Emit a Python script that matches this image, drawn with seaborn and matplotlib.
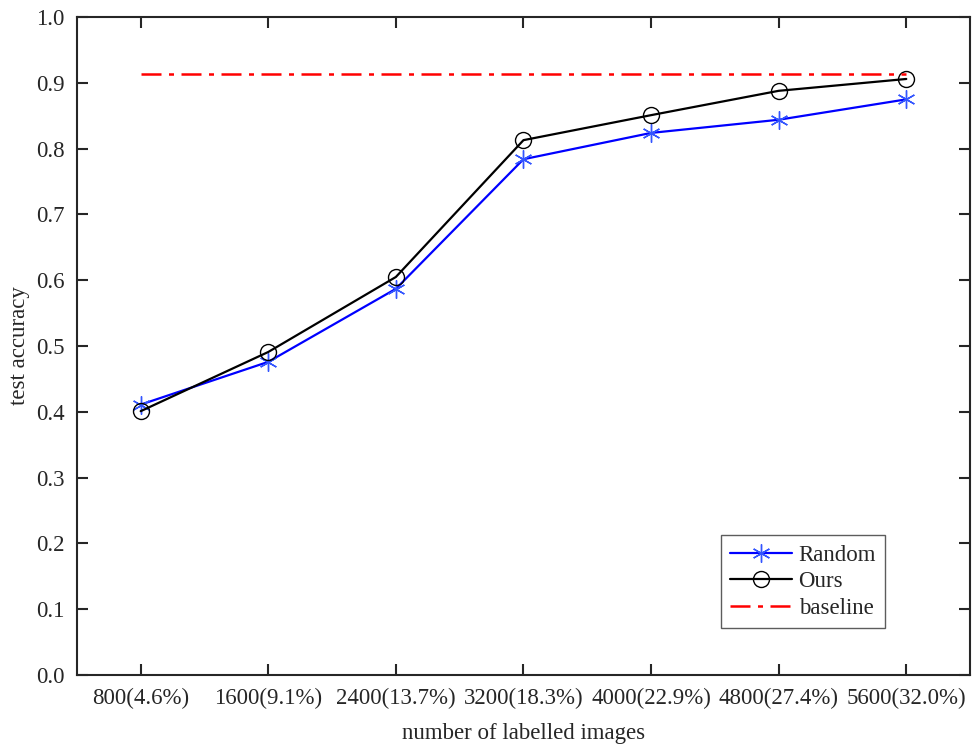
import matplotlib
matplotlib.use("Agg")
import matplotlib.pyplot as plt
import seaborn as sns
import pandas as pd
import numpy as np

# values
labels = ["800(4.6%)", "1600(9.1%)", "2400(13.7%)", "3200(18.3%)",
          "4000(22.9%)", "4800(27.4%)", "5600(32.0%)"]
random_acc = [0.411, 0.476, 0.587, 0.784, 0.824, 0.844, 0.875]
ours_acc = [0.401, 0.491, 0.605, 0.813, 0.851, 0.888, 0.906]
baseline_acc = 0.913

sns.set_style("ticks")
plt.rcParams['font.family'] = ['Liberation Serif', 'DejaVu Serif']

x = np.arange(len(labels))
df = pd.DataFrame({"x": x, "Random": random_acc, "Ours": ours_acc,
                   "baseline": [baseline_acc] * len(labels)})

fig = plt.figure(figsize=(9.73, 7.45), dpi=100)
ax = fig.add_axes([0.079, 0.094, 0.918, 0.883])

sns.lineplot(data=df, x="x", y="Random", ax=ax, color="blue", lw=1.6,
             marker=(6, 2, 0), markersize=13, markeredgecolor="#3355ff",
             markeredgewidth=1.0, label="Random")
sns.lineplot(data=df, x="x", y="Ours", ax=ax, color="black", lw=1.6,
             marker="o", markersize=11.5, markerfacecolor="none",
             markeredgecolor="black", markeredgewidth=1.0, label="Ours")
sns.lineplot(data=df, x="x", y="baseline", ax=ax, color="red", lw=1.8,
             linestyle=(0, (8, 3, 2, 3)), label="baseline")

ax.set_xlim(-0.5, 6.5)
ax.set_ylim(0, 1.0)
ax.set_xticks(x)
ax.set_xticklabels(labels)
ax.set_yticks(np.arange(0, 1.01, 0.1))
ax.set_yticklabels(["%.1f" % v for v in np.arange(0, 1.01, 0.1)])
ax.tick_params(direction="in", length=8, width=1.5, labelsize=16.5,
               top=True, right=True, pad=9)
for s in ax.spines.values():
    s.set_linewidth(1.5)
    s.set_visible(True)

ax.set_xlabel("number of labelled images", fontsize=16.5, labelpad=10)
ax.set_ylabel("test accuracy", fontsize=16.5, labelpad=4)

leg = ax.legend(loc="lower right", bbox_to_anchor=(0.905, 0.071),
                borderaxespad=0, fontsize=16.5, frameon=True, fancybox=False,
                handlelength=2.7, borderpad=0.4, labelspacing=0.25,
                handletextpad=0.3)
leg.get_frame().set_edgecolor("#333333")
leg.get_frame().set_linewidth(1.0)

fig.savefig("out.png", dpi=100)
